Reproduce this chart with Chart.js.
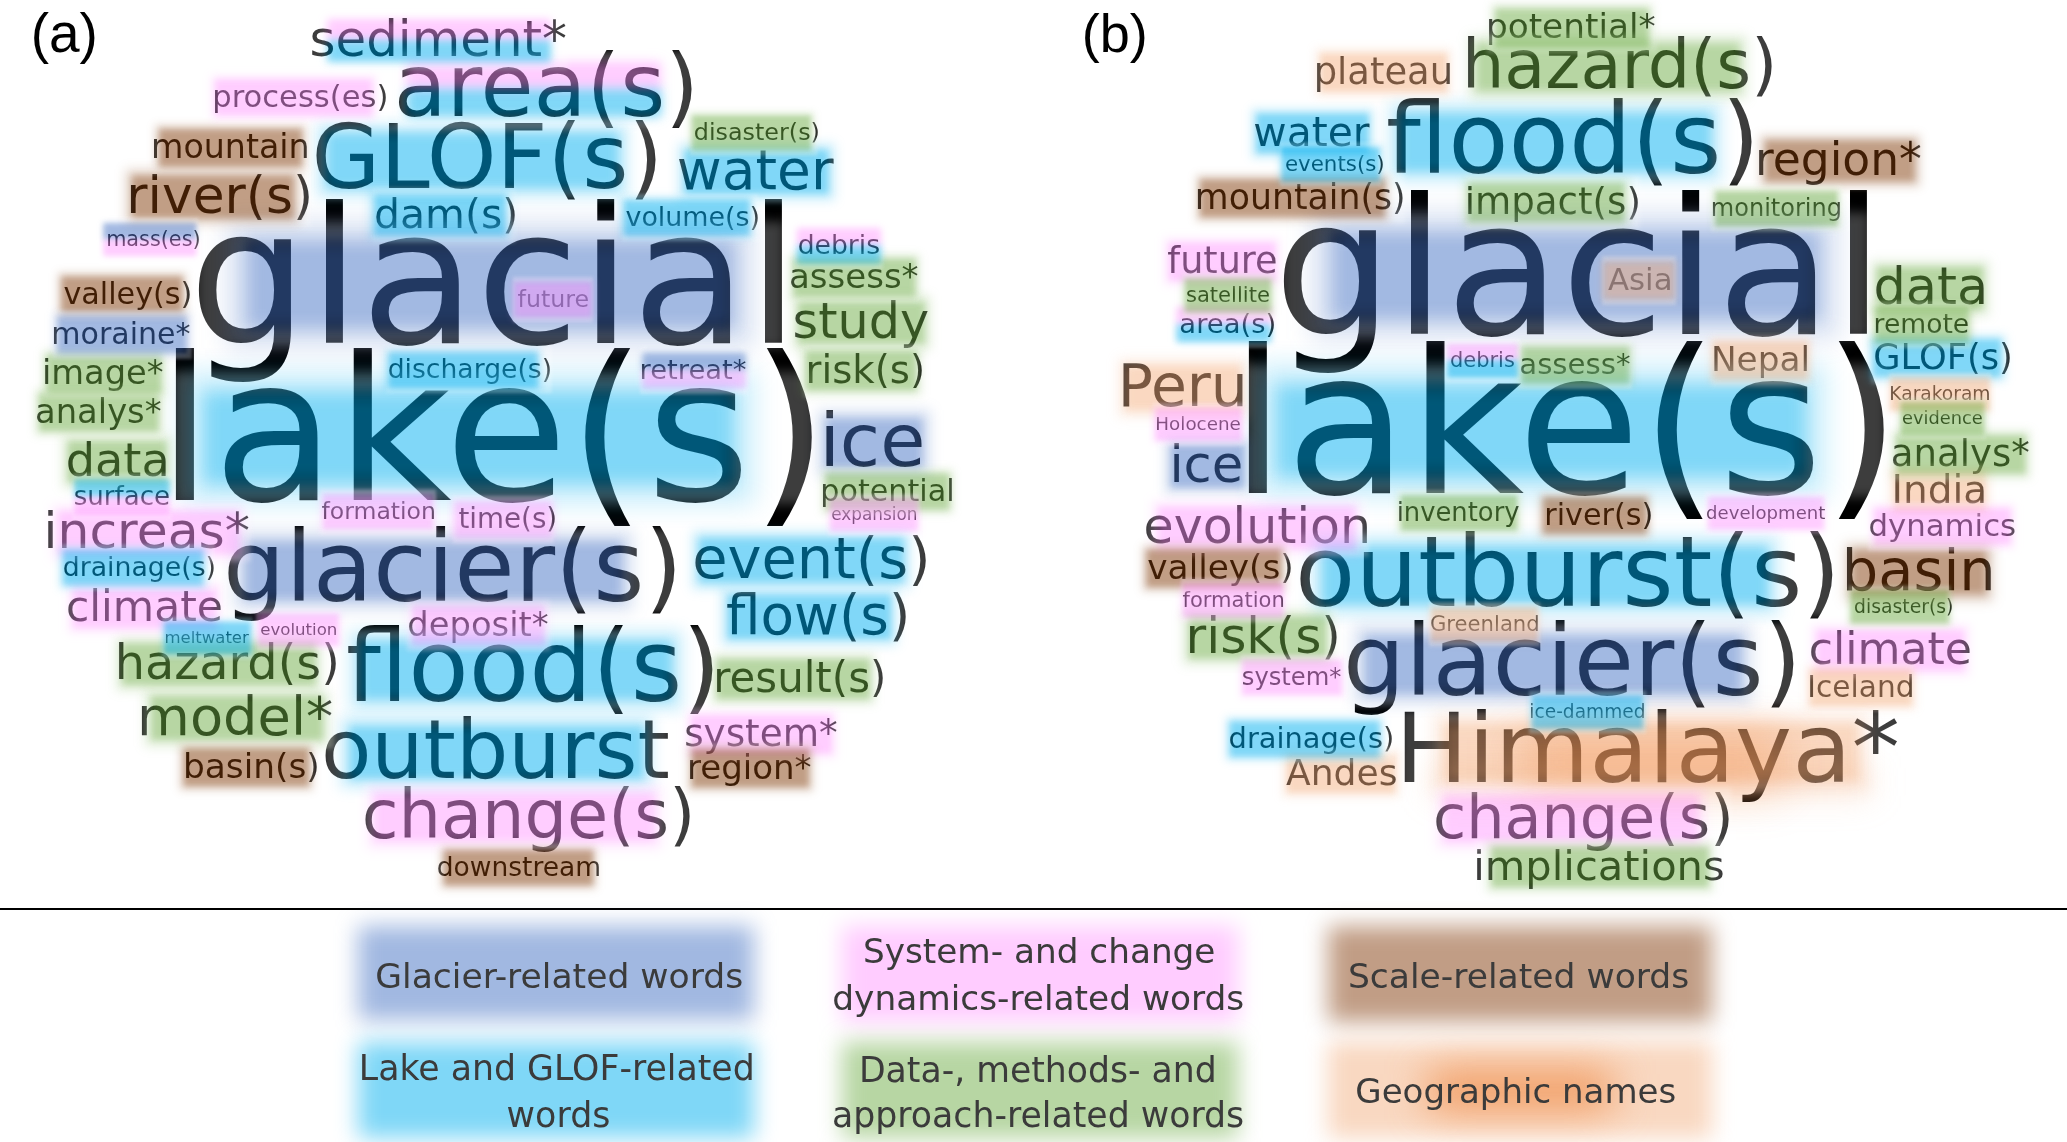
<!DOCTYPE html>
<html>
<head>
<meta charset="utf-8">
<title>Word clouds</title>
<script src="https://cdn.jsdelivr.net/npm/chart.js@4"></script>
<style>
  html, body { margin: 0; padding: 0; background: #fff; }
  canvas { display: block; }
</style>
</head>
<body>
<canvas id="cloud" width="2067" height="1142"></canvas>
<script>

  // panel (a)
  const wordsA = ['sediment*','area(s)','process(es)','mountain','GLOF(s)','disaster(s)','water','river(s)','dam(s)','volume(s)','mass(es)','glacial','debris','assess*','valley(s)','future','moraine*','study','image*','discharge(s)','retreat*','risk(s)','analys*','ice','lake(s)','data','surface','potential','increas*','formation','time(s)','expansion','glacier(s)','event(s)','drainage(s)','climate','flow(s)','deposit*','meltwater','evolution','hazard(s)','flood(s)','result(s)','model*','outburst','system*','region*','basin(s)','change(s)','downstream'];
  const leftA  = [312,399,215,154,316,695,679,131,376,626,108,198,799,791,64,518,54,795,45,389,642,809,37,826,175,68,75,823,48,322,459,832,228,695,64,68,727,409,166,261,119,348,717,142,325,686,690,186,365,438];
  const rightA = [566,692,386,307,656,818,834,309,515,758,199,783,879,918,190,588,190,928,163,550,746,922,161,922,813,166,169,952,249,434,555,916,675,926,214,221,906,548,249,336,336,713,883,332,668,837,811,317,690,599];
  const baseA  = [56,116,107,158,188,140,189,213,228,226,246,343,254,288,304,307,344,338,384,378,379,383,423,466,500,476,505,501,548,519,528,520,601,578,576,621,634,636,643,635,679,701,692,735,778,746,779,778,838,876];
  const catsA  = ['SL','SL','S','R','L','D','L','R','L','L','GS','G','SL','D','R','S','G','D','D','L','GS','D','D','G','L','D','LS','D','S','S','S','S','G','L','L','S','L','S','L','S','D','L','D','D','L','S','R','R','S','R'];

  // panel (b)
  const wordsB = ['potential*','hazard(s)','plateau','water','flood(s)','events(s)','region*','mountain(s)','impact(s)','monitoring','glacial','future','Asia','satellite','data','area(s)','remote','debris','assess*','Nepal','GLOF(s)','Peru','Karakoram','evidence','Holocene','lake(s)','ice','analys*','India','inventory','river(s)','development','evolution','dynamics','valley(s)','outburst(s)','basin','formation','disaster(s)','Greenland','risk(s)','climate','glacier(s)','system*','Iceland','ice-dammed','drainage(s)','Himalaya*','Andes','change(s)','implications'];
  const leftB  = [1489,1468,1317,1255,1388,1286,1759,1198,1468,1713,1283,1168,1608,1187,1876,1181,1876,1451,1521,1714,1875,1123,1891,1903,1157,1248,1174,1893,1895,1399,1547,1707,1146,1870,1148,1300,1847,1183,1855,1431,1190,1811,1348,1243,1810,1531,1230,1404,1286,1436,1477];
  const rightB = [1655,1772,1450,1370,1752,1383,1921,1403,1638,1840,1868,1276,1670,1269,1984,1274,1968,1514,1630,1807,2010,1243,1989,1982,1240,1885,1241,2029,1984,1519,1651,1825,1367,2015,1291,1833,1991,1283,1952,1538,1337,1970,1794,1341,1912,1644,1392,1898,1396,1729,1723];
  const baseB  = [38,88,84,146,173,171,175,209,214,216,334,273,290,302,304,333,333,367,374,371,369,406,400,424,430,493,482,466,503,521,525,519,543,536,579,606,590,607,613,631,653,664,695,685,697,718,748,782,785,838,880];
  const catsB  = ['D','D','O','L','L','L','R','R','D','D','G','S','O','D','D','SL','D','SL','D','O','L','O','O','D','S','L','G','D','O','D','R','S','S','S','R','L','R','S','D','O','D','S','G','S','O','L','L','O','O','S','D'];

  // panel letters
  const panelLabels = ['(a)','(b)'];
  const panelLeft   = [34,1085];
  const panelRight  = [95,1145];
  const panelBase   = [52,52];

  // legend boxes
  const legendCats   = ['G','S','R','L','D','O'];
  const legendLeft   = [358,842,1328,358,842,1328];
  const legendRight  = [754,1238,1712,754,1238,1712];
  const legendTop    = [926,926,926,1042,1042,1042];
  const legendBottom = [1020,1022,1022,1138,1138,1138];

  // legend text, one entry per line
  const legendText      = ['Glacier-related words','System- and change','dynamics-related words','Scale-related words','Lake and GLOF-related','words','Data-, methods- and','approach-related words','Geographic names'];
  const legendTextLeft  = [377,865,834,1350,362,508,862,834,1357];
  const legendTextRight = [742,1214,1243,1688,752,609,1214,1243,1675];
  const legendTextBase  = [988,963,1010,988,1080,1127,1082,1127,1103];

  const dividerX = [0,2067];
  const dividerY = [909,909];

  const colours = { G: '#4472C4', L: '#00B0F0', S: '#FF99FF', R: '#833C0B', D: '#70AD47', O: '#F4B183' };
  const fontName = '"DejaVu Sans"';

  function wordSet(label, words, left, right, base, cats) {
    return {
      label: label,
      data: left.map((v, i) => ({ x: v, y: base[i] })),
      words: words,
      right: right,
      cats: cats,
      pointRadius: 0,
      showLine: false
    };
  }

  // font size and origin so the ink of the text runs from x0 to x1
  function fitText(ctx, text, font, x0, x1) {
    ctx.font = '100px ' + font;
    const m = ctx.measureText(text);
    const size = 100 * (x1 - x0) / (m.actualBoundingBoxLeft + m.actualBoundingBoxRight);
    return { size: size, x: x0 + m.actualBoundingBoxLeft * size / 100 };
  }

  function softRect(ctx, x, y, w, h, colour, alpha, blur) {
    ctx.save();
    ctx.filter = 'blur(' + blur + 'px)';
    ctx.globalAlpha = alpha;
    ctx.fillStyle = colour;
    ctx.fillRect(x, y, w, h);
    ctx.restore();
  }

  // pale wide fringe plus a solid core, .2 then .375 adds up to .5 in the middle
  function softGlow(ctx, x, y, w, h, colour, blur, reach) {
    softRect(ctx, x - reach, y - reach, w + 2 * reach, h + 2 * reach, colour, 0.2, blur * 1.4);
    softRect(ctx, x, y, w, h, colour, 0.375, blur);
  }

  function softRing(ctx, x, y, w, h, ix, iy, iw, ih, blur) {
    ctx.save();
    ctx.filter = 'blur(' + blur + 'px)';
    ctx.fillStyle = 'rgba(255,255,255,.24)';
    ctx.beginPath();
    ctx.rect(x, y, w, h);
    ctx.rect(ix, iy, iw, ih);
    ctx.fill('evenodd');
    ctx.restore();
  }

  const cloudPlugin = {
    id: 'cloud',
    afterDatasetsDraw(chart) {
      const ctx = chart.ctx;
      const sx = chart.scales.x;
      const sy = chart.scales.y;
      let items = [];

      ctx.save();
      ctx.textBaseline = 'alphabetic';
      ctx.textAlign = 'left';

      // black words first, the colour goes over them
      chart.data.datasets.forEach((ds, d) => {
        if (!ds.words) return;
        chart.getDatasetMeta(d).data.forEach((pt, i) => {
          const x0 = pt.x;
          const x1 = sx.getPixelForValue(ds.right[i]);
          const fit = fitText(ctx, ds.words[i], fontName, x0, x1);
          ctx.font = fit.size + 'px ' + fontName;
          ctx.fillStyle = '#000';
          ctx.fillText(ds.words[i], fit.x, pt.y);
          items.push({ word: ds.words[i], x0: x0, x1: x1, y: pt.y, size: fit.size, cat: ds.cats[i] });
        });
      });

      items.sort((a, b) => b.size - a.size);
      items.forEach(it => {
        const W = it.x1 - it.x0;
        const w = 0.80 * W + 20;
        const h = 0.33 * it.size + 26;
        const shift = it.word.endsWith(')') ? 0.04 * W : 0;
        const cx = (it.x0 + it.x1) / 2 - shift;
        const cy = it.y - 0.31 * it.size;
        const blur = 2 + 0.035 * it.size;
        const reach = 1 + 0.1 * it.size;
        const left = cx - w / 2;
        const top = cy - h / 2;
        const pad = 4 + 0.08 * it.size;
        softRing(ctx, Math.min(it.x0, left) - 2, top - pad, Math.max(W, w) + 4, h + 2 * pad, left, top, w, h, blur * 0.6);
        if (it.cat.length === 2) {
          softGlow(ctx, left, top, w, h / 2, colours[it.cat[0]], blur, 0);
          softGlow(ctx, left, top + h / 2, w, h / 2, colours[it.cat[1]], blur, 0);
        } else {
          softGlow(ctx, left, top, w, h, colours[it.cat], blur, reach);
        }
        if (it.word === 'Himalaya*') {
          softRect(ctx, cx - 130, cy - 15, 260, 50, '#ED7D31', 0.4, 24);
          softRect(ctx, cx - 220, cy + 15, 440, 30, '#F4B183', 0.25, 16);
        }
      });

      // legend boxes and their text
      legendCats.forEach((c, i) => {
        const x = sx.getPixelForValue(legendLeft[i]);
        const r = sx.getPixelForValue(legendRight[i]);
        const y = sy.getPixelForValue(legendTop[i]);
        const b = sy.getPixelForValue(legendBottom[i]);
        softRect(ctx, x, y, r - x, b - y, colours[c], 0.5, 11);
        if (c === 'O') {
          softRect(ctx, x + 100, y + 30, r - x - 200, b - y - 60, '#ED7D31', 0.75, 20);
        }
      });
      legendText.forEach((t, i) => {
        const fit = fitText(ctx, t, fontName, sx.getPixelForValue(legendTextLeft[i]), sx.getPixelForValue(legendTextRight[i]));
        ctx.font = fit.size + 'px ' + fontName;
        ctx.fillStyle = '#3b3b3b';
        ctx.fillText(t, fit.x, sy.getPixelForValue(legendTextBase[i]));
      });

      panelLabels.forEach((t, i) => {
        const fit = fitText(ctx, t, '"Liberation Sans"', sx.getPixelForValue(panelLeft[i]), sx.getPixelForValue(panelRight[i]));
        ctx.font = fit.size + 'px "Liberation Sans"';
        ctx.fillStyle = '#000';
        ctx.fillText(t, fit.x, sy.getPixelForValue(panelBase[i]));
      });
      ctx.restore();
    }
  };

  const cloudChart = new Chart(document.getElementById('cloud'), {
    type: 'scatter',
    data: {
      datasets: [
        wordSet('a', wordsA, leftA, rightA, baseA, catsA),
        wordSet('b', wordsB, leftB, rightB, baseB, catsB),
        {
          label: 'divider',
          data: dividerX.map((v, i) => ({ x: v, y: dividerY[i] })),
          showLine: true,
          pointRadius: 0,
          borderColor: '#000',
          borderWidth: 2
        }
      ]
    },
    options: {
      responsive: false,
      animation: false,
      layout: { padding: 0 },
      plugins: {
        legend: { display: false },
        tooltip: { enabled: false }
      },
      scales: {
        x: { type: 'linear', display: false, min: 0, max: 2067 },
        y: { type: 'linear', display: false, min: 0, max: 1142, reverse: true }
      }
    },
    plugins: [cloudPlugin]
  });

</script>
</body>
</html>
